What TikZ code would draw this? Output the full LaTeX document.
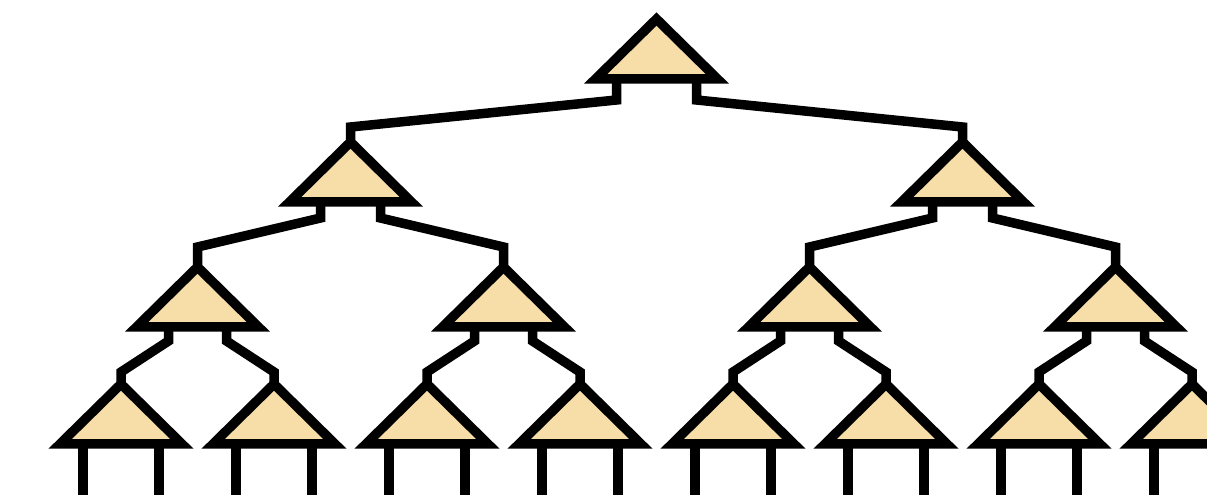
\documentclass[tikz,border=0pt]{standalone}
\usepackage{xcolor}
\usepackage{tikz}
\usetikzlibrary{shapes.geometric, calc}

\definecolor{treefill}{RGB}{247,222,168}

\begin{document}
\begin{tikzpicture}[
    x=0.02cm, y=-0.02cm,
    tree/.style={isosceles triangle, isosceles triangle stretches, shape border rotate=90, draw, fill=treefill, line width=0.19cm, minimum width=2.44cm, minimum height=1.2cm, inner sep=0pt, outer sep=0pt, anchor=apex},
    wire/.style={draw, line width=0.19cm}
]
\useasboundingbox (0,0) rectangle (1207,494);
\clip (0,0) rectangle (1207,494);

% Root and second level
\node [tree] (root) at (656.5,19) {};
\node [tree] (l) at (350.5,142) {};
\node [tree] (r) at (962.5,142) {};

% Third level
\node [tree] (ll) at (197.5,267) {};
\node [tree] (lr) at (503.5,267) {};
\node [tree] (rl) at (809.5,267) {};
\node [tree] (rr) at (1115.5,267) {};

% Leaves
\node [tree] (lll) at (121,384) {};
\node [tree] (llr) at (274,384) {};
\node [tree] (lrl) at (427,384) {};
\node [tree] (lrr) at (580,384) {};
\node [tree] (rll) at (733,384) {};
\node [tree] (rlr) at (886,384) {};
\node [tree] (rrl) at (1039,384) {};
\node [tree] (rrr) at (1192,384) {};

% Wires from root
\draw [wire] ($(root.lower side)+(-40,0)$) -- ++(0,21) -- ($(l.apex)+(0,-15)$) -- (l.apex);
\draw [wire] ($(root.lower side)+(40,0)$) -- ++(0,21) -- ($(r.apex)+(0,-15)$) -- (r.apex);

% Wires from second level
\draw [wire] ($(l.lower side)+(-30,0)$) -- ++(0,16) -- ($(ll.apex)+(0,-20)$) -- (ll.apex);
\draw [wire] ($(l.lower side)+(30,0)$) -- ++(0,16) -- ($(lr.apex)+(0,-20)$) -- (lr.apex);
\draw [wire] ($(r.lower side)+(-30,0)$) -- ++(0,16) -- ($(rl.apex)+(0,-20)$) -- (rl.apex);
\draw [wire] ($(r.lower side)+(30,0)$) -- ++(0,16) -- ($(rr.apex)+(0,-20)$) -- (rr.apex);

% Wires from third level
\draw [wire] ($(ll.lower side)+(-29,0)$) -- ++(0,14) -- ($(lll.apex)+(0,-12)$) -- (lll.apex);
\draw [wire] ($(ll.lower side)+(29,0)$) -- ++(0,14) -- ($(llr.apex)+(0,-12)$) -- (llr.apex);
\draw [wire] ($(lr.lower side)+(-29,0)$) -- ++(0,14) -- ($(lrl.apex)+(0,-12)$) -- (lrl.apex);
\draw [wire] ($(lr.lower side)+(29,0)$) -- ++(0,14) -- ($(lrr.apex)+(0,-12)$) -- (lrr.apex);
\draw [wire] ($(rl.lower side)+(-29,0)$) -- ++(0,14) -- ($(rll.apex)+(0,-12)$) -- (rll.apex);
\draw [wire] ($(rl.lower side)+(29,0)$) -- ++(0,14) -- ($(rlr.apex)+(0,-12)$) -- (rlr.apex);
\draw [wire] ($(rr.lower side)+(-29,0)$) -- ++(0,14) -- ($(rrl.apex)+(0,-12)$) -- (rrl.apex);
\draw [wire] ($(rr.lower side)+(29,0)$) -- ++(0,14) -- ($(rrr.apex)+(0,-12)$) -- (rrr.apex);

% Leaf legs
\draw [wire] ($(lll.lower side)+(-38,0)$) -- ++(0,60) ($(lll.lower side)+(38,0)$) -- ++(0,60);
\draw [wire] ($(llr.lower side)+(-38,0)$) -- ++(0,60) ($(llr.lower side)+(38,0)$) -- ++(0,60);
\draw [wire] ($(lrl.lower side)+(-38,0)$) -- ++(0,60) ($(lrl.lower side)+(38,0)$) -- ++(0,60);
\draw [wire] ($(lrr.lower side)+(-38,0)$) -- ++(0,60) ($(lrr.lower side)+(38,0)$) -- ++(0,60);
\draw [wire] ($(rll.lower side)+(-38,0)$) -- ++(0,60) ($(rll.lower side)+(38,0)$) -- ++(0,60);
\draw [wire] ($(rlr.lower side)+(-38,0)$) -- ++(0,60) ($(rlr.lower side)+(38,0)$) -- ++(0,60);
\draw [wire] ($(rrl.lower side)+(-38,0)$) -- ++(0,60) ($(rrl.lower side)+(38,0)$) -- ++(0,60);
\draw [wire] ($(rrr.lower side)+(-38,0)$) -- ++(0,60) ($(rrr.lower side)+(38,0)$) -- ++(0,60);

\end{tikzpicture}
\end{document}
